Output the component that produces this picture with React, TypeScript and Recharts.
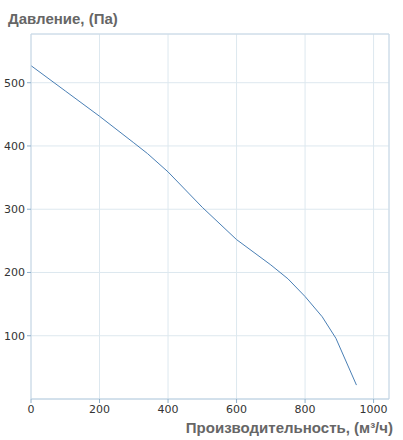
import { CartesianGrid, Line, LineChart, ReferenceLine, XAxis, YAxis } from 'recharts';

const flow = [0, 100, 200, 300, 340, 400, 500, 600, 700, 750, 800, 850, 890, 950];
const pressure = [527, 487, 447, 405, 388, 359, 303, 252, 212, 190, 162, 130, 96, 22];
const xTicks = [0, 200, 400, 600, 800, 1000];
const yTicks = [100, 200, 300, 400, 500];

const X_MAX = 1045;
const Y_MAX = 577;

const data = flow.map((f, i) => ({ flow: f, pressure: pressure[i] }));

const tickStyle = { fill: '#333', fontSize: 11, fontFamily: 'DejaVu Sans, Verdana, sans-serif' };
const titleStyle = {
  position: 'absolute' as const,
  fontFamily: 'Liberation Sans, Arial, sans-serif',
  fontWeight: 700,
  fontSize: 15,
  color: '#666',
  whiteSpace: 'nowrap' as const,
};

export default function App() {
  return (
    <div style={{ position: 'absolute', left: 0, top: 0, width: 403, height: 440, background: '#fff' }}>
      <LineChart width={403} height={440} data={data} margin={{ top: 34, right: 14, bottom: 21, left: 0 }}>
        <CartesianGrid stroke="#dde8ef" />
        <XAxis
          dataKey="flow"
          type="number"
          domain={[0, X_MAX]}
          ticks={xTicks}
          height={20}
          tick={tickStyle}
          tickSize={4}
          stroke="#b8cee0"
          tickLine={{ stroke: '#8fb0cc' }}
        />
        <YAxis
          type="number"
          domain={[0, Y_MAX]}
          ticks={yTicks}
          width={31}
          tick={tickStyle}
          tickSize={4}
          stroke="#c8d8e6"
          tickLine={{ stroke: '#8fb0cc' }}
        />
        <ReferenceLine y={Y_MAX} stroke="#c8d8e6" />
        <ReferenceLine x={X_MAX} stroke="#c8d8e6" />
        <Line
          dataKey="pressure"
          type="linear"
          stroke="#4a7fb5"
          strokeWidth={1}
          dot={false}
          isAnimationActive={false}
        />
      </LineChart>
      <div style={{ ...titleStyle, left: 8, top: 10 }}>Давление, (Па)</div>
      <div style={{ ...titleStyle, right: 10, top: 419 }}>Производительность, (м³/ч)</div>
    </div>
  );
}
